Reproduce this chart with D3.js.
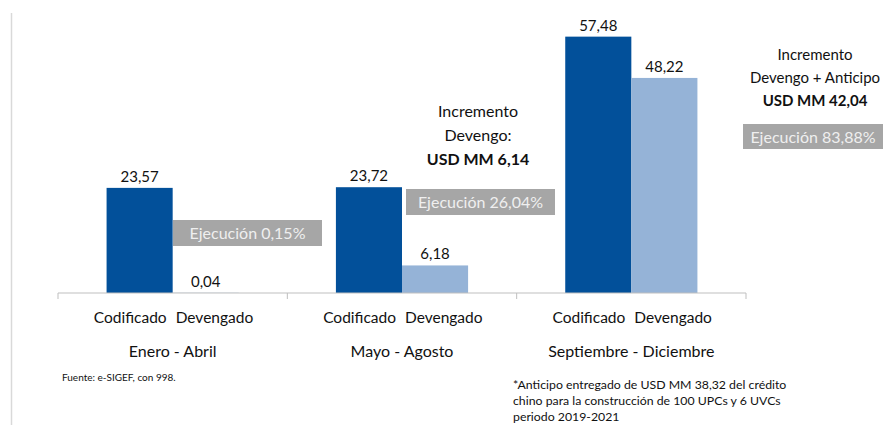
<!DOCTYPE html>
<html>
<head>
<meta charset="utf-8">
<script src="https://cdn.jsdelivr.net/npm/d3@7/dist/d3.min.js"></script>
<style>
  html, body { margin: 0; padding: 0; background: #fff; }
  svg { display: block; font-family: Lato, "Open Sans", sans-serif; }
</style>
</head>
<body>
<svg id="chart" width="883" height="425"></svg>
<script>
// Periods (outer categories) and series (inner categories)
const periods = ["Enero - Abril", "Mayo - Agosto", "Septiembre - Diciembre"];
const series = ["Codificado", "Devengado"];
// USD millions per period
const codificado = [23.57, 23.72, 57.48];
const devengado = [0.04, 6.18, 48.22];
// Execution share per period
const ejecucion = ["Ejecución 0,15%", "Ejecución 26,04%", "Ejecución 83,88%"];
// Increment notes for the 2nd and 3rd periods
const incrementoMayo = ["Incremento", "Devengo:", "USD MM 6,14"];
const incrementoSept = ["Incremento", "Devengo + Anticipo", "USD MM 42,04"];
const fuente = "Fuente: e-SIGEF, con 998.";
const nota = [
  "*Anticipo entregado de USD MM 38,32 del crédito",
  "chino para la construcción de 100 UPCs  y 6 UVCs",
  "periodo 2019-2021"
];

const fmt = v => v.toFixed(2).replace(".", ",");
const colors = { Codificado: "#02509a", Devengado: "#95b3d7" };

const svg = d3.select("#chart");
const baseY = 293;

const x0 = d3.scaleBand().domain(periods).range([58, 746]).paddingInner(0).paddingOuter(0);
const x1 = d3.scaleBand().domain(series).range([0, x0.bandwidth()]).paddingInner(0).paddingOuter(0.735);
const y = d3.scaleLinear().domain([0, 60]).range([baseY, baseY - 267.6]);

const rows = periods.map((p, i) => ({ period: p, values: [
  { key: "Codificado", value: codificado[i] },
  { key: "Devengado", value: devengado[i] }
]}));

// Left frame line
svg.append("line")
  .attr("x1", 11.5).attr("x2", 11.5).attr("y1", 13).attr("y2", 425)
  .attr("stroke", "#d9d9d9").attr("stroke-width", 1.5);

// Bars and value labels
const g = svg.selectAll("g.period").data(rows).join("g")
  .attr("class", "period")
  .attr("transform", d => `translate(${x0(d.period)},0)`);

g.selectAll("rect").data(d => d.values).join("rect")
  .attr("x", d => x1(d.key))
  .attr("width", x1.bandwidth())
  .attr("y", d => y(d.value))
  .attr("height", d => baseY - y(d.value))
  .attr("fill", d => colors[d.key]);

g.selectAll("text.val").data(d => d.values).join("text")
  .attr("class", "val")
  .attr("x", d => x1(d.key) + x1.bandwidth() / 2)
  .attr("y", d => y(d.value) - 6)
  .attr("text-anchor", "middle")
  .attr("font-size", 15)
  .attr("fill", "#111")
  .text(d => fmt(d.value));

// Series labels under each bar pair, set either side of the period centre
const mid = x0.bandwidth() / 2;
g.selectAll("text.ser").data(d => d.values).join("text")
  .attr("class", "ser")
  .attr("x", d => d.key === "Codificado" ? mid - 6 : mid + 3)
  .attr("y", 323)
  .attr("text-anchor", d => d.key === "Codificado" ? "end" : "start")
  .attr("font-size", 15.5)
  .attr("fill", "#111")
  .text(d => d.key);

// Period axis
const axis = svg.append("g").attr("transform", `translate(0,${baseY})`);
axis.append("line")
  .attr("x1", x0.range()[0]).attr("x2", x0.range()[1])
  .attr("stroke", "#bfbfbf").attr("stroke-width", 1);
const tickXs = periods.map(p => x0(p)).concat([x0.range()[1]]);
axis.selectAll("line.tick").data(tickXs).join("line")
  .attr("class", "tick")
  .attr("x1", d => d).attr("x2", d => d)
  .attr("y1", 0).attr("y2", 6)
  .attr("stroke", "#bfbfbf");

svg.selectAll("text.per").data(periods).join("text")
  .attr("class", "per")
  .attr("x", p => x0(p) + x0.bandwidth() / 2)
  .attr("y", 357)
  .attr("text-anchor", "middle")
  .attr("font-size", 16)
  .attr("fill", "#111")
  .text(p => p);

// Execution boxes
const boxes = [
  { x: 173, y: 220, w: 149, h: 26, text: ejecucion[0] },
  { x: 406, y: 189, w: 149, h: 26, text: ejecucion[1] },
  { x: 743, y: 124, w: 140, h: 25, text: ejecucion[2] }
];
boxes.forEach(b => {
  svg.append("rect").attr("x", b.x).attr("y", b.y).attr("width", b.w).attr("height", b.h)
    .attr("fill", "#a6a6a6");
  svg.append("text").attr("x", b.x + b.w / 2).attr("y", b.y + b.h / 2 + 6)
    .attr("text-anchor", "middle").attr("font-size", 16).attr("fill", "#efefef")
    .text(b.text);
});

// Increment notes
function note(lines, cx, y0, dy, size) {
  lines.forEach((t, i) => {
    svg.append("text").attr("x", cx).attr("y", y0 + i * dy)
      .attr("text-anchor", "middle").attr("font-size", size)
      .attr("font-weight", i === 2 ? "bold" : "normal")
      .attr("fill", "#111").text(t);
  });
}
note(incrementoMayo, 478, 117, 24, 16);
note(incrementoSept, 815, 60, 23, 15);

// Source and footnote
svg.append("text").attr("x", 62).attr("y", 381).attr("font-size", 10).attr("fill", "#111").text(fuente);
nota.forEach((t, i) => {
  svg.append("text").attr("x", 513).attr("y", 389 + i * 16).attr("font-size", 12.3)
    .attr("fill", "#111").text(t);
});
</script>
</body>
</html>
